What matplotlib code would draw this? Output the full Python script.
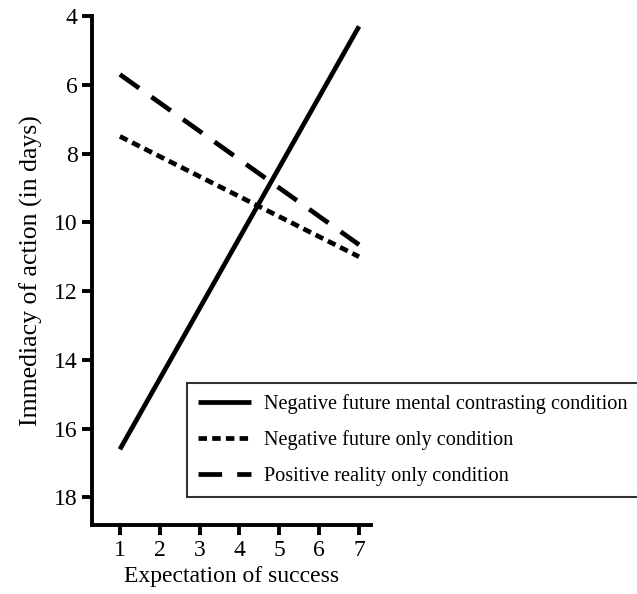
import matplotlib
matplotlib.use("Agg")
import matplotlib.pyplot as plt

plt.rcParams['font.family'] = ['Liberation Serif', 'DejaVu Serif']

x = [1, 7]
labels = ["Negative future mental contrasting condition",
          "Negative future only condition",
          "Positive reality only condition"]
solid_y = [16.6, 4.3]
dotted_y = [7.5, 11.0]
dashed_y = [5.7, 10.65]
xticks = [1, 2, 3, 4, 5, 6, 7]
yticks = [4, 6, 8, 10, 12, 14, 16, 18]

fig = plt.figure(figsize=(6.37, 5.94), dpi=100)
ax = fig.add_axes([92/637, 1-525/594, (371-92)/637, (525-16)/594])

l1, = ax.plot(x, solid_y, color='black', lw=3.4, solid_capstyle='butt')
l2, = ax.plot(x, dotted_y, color='black', lw=3.4, dashes=(1.8, 1.1))
l3, = ax.plot(x, dashed_y, color='black', lw=3.4, dashes=(5.0, 3.2))

ax.set_xlim(0.3, 7.3)
ax.set_ylim(18.8, 4)
ax.set_xticks(xticks)
ax.set_yticks(yticks)
ax.tick_params(axis='both', direction='out', length=7.5, width=2.8, labelsize=17, pad=3)
for s in ['top', 'right']:
    ax.spines[s].set_visible(False)
for s in ['left', 'bottom']:
    ax.spines[s].set_linewidth(2.8)

ax.set_xlabel("Expectation of success", fontsize=17, labelpad=4)
ax.set_ylabel("Immediacy of action (in days)", fontsize=18.5, labelpad=8)

leg = fig.legend([l1, l2, l3], labels, loc='upper left',
                 bbox_to_anchor=(187/637, 1-383/594), fontsize=14.6,
                 frameon=True, fancybox=False, handlelength=2.6,
                 borderpad=0.55, labelspacing=0.8, handletextpad=0.65,
                 borderaxespad=0)
leg.get_frame().set_edgecolor('black')
leg.get_frame().set_linewidth(1.5)

fig.savefig("out.png", dpi=100)
